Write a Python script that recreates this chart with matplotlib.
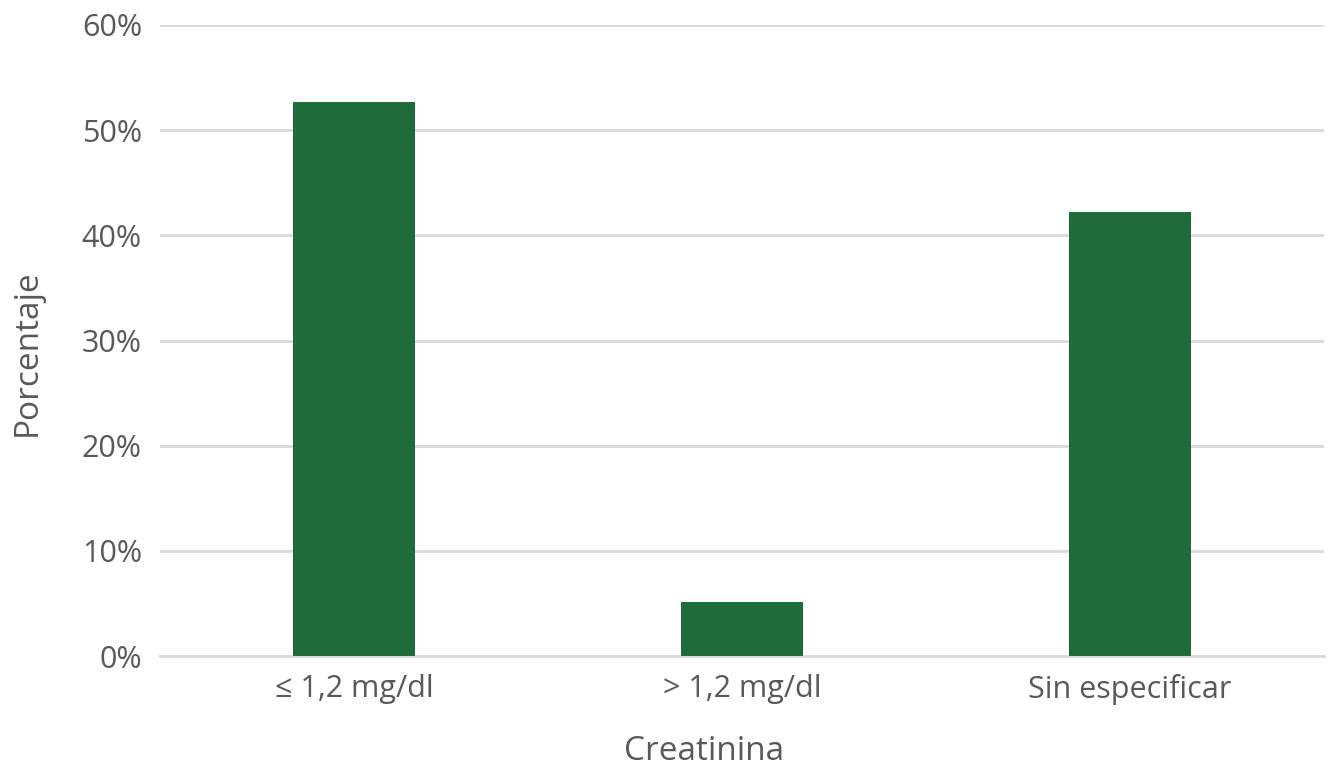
import matplotlib
matplotlib.use("Agg")
import matplotlib.pyplot as plt
from matplotlib.ticker import FuncFormatter

categories = ["≤ 1,2 mg/dl", "> 1,2 mg/dl", "Sin especificar"]
values = [52.7, 5.1, 42.2]
yticks = [0, 10, 20, 30, 40, 50, 60]

plt.rcParams['font.family'] = ['Open Sans', 'DejaVu Sans']
txt = '#595959'
grid = '#d9d9d9'

fig = plt.figure(figsize=(13.29, 7.69), dpi=100)
ax = fig.add_axes([160/1329, (769-656)/769, (1324-160)/1329, (656-25)/769])

x = range(len(categories))
ax.bar(x, values, width=0.314, color='#1F6B3A', zorder=3)
ax.set_xlim(-0.5, len(categories) - 0.5)
ax.set_ylim(0, 60)
ax.set_yticks(yticks)
ax.yaxis.set_major_formatter(FuncFormatter(lambda v, p: f"{int(v)}%"))
ax.set_xticks(list(x))
ax.set_xticklabels(categories)
ax.grid(axis='y', color=grid, linewidth=2, zorder=0)
for s in ['top', 'right', 'left']:
    ax.spines[s].set_visible(False)
ax.spines['bottom'].set_color(grid)
ax.spines['bottom'].set_linewidth(2)
ax.tick_params(axis='both', length=0, labelsize=22, colors=txt)
ax.tick_params(axis='y', pad=13)
ax.tick_params(axis='x', pad=13)

fig.text(704/1329, 1 - 752/769, "Creatinina", ha='center', va='center', fontsize=24, color=txt)
fig.text(27/1329, 1 - 353/769, "Porcentaje", ha='center', va='center', fontsize=24, color=txt, rotation=90)

fig.savefig("out.png", dpi=100)
